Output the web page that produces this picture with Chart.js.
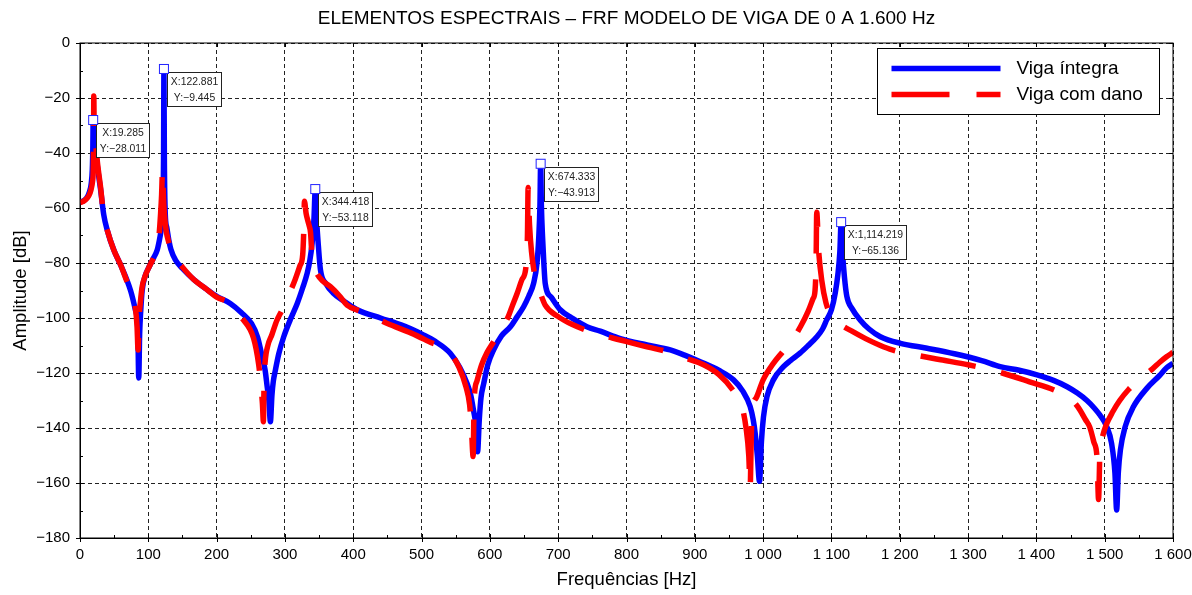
<!DOCTYPE html>
<html>
<head>
<meta charset="utf-8">
<script src="https://cdn.jsdelivr.net/npm/chart.js@4.4.0/dist/chart.umd.min.js"></script>
<style>
  html, body { margin: 0; padding: 0; background: #fff; }
  #wrap { width: 1192px; height: 595px; }
</style>
</head>
<body>
<div id="wrap"><canvas id="chart" width="1192" height="595"></canvas></div>
<script>
'use strict';

const titleText = 'ELEMENTOS ESPECTRAIS – FRF MODELO DE VIGA DE 0 A 1.600 Hz';
const seriesNames = ['Viga íntegra', 'Viga com dano'];

// Viga íntegra (Hz / dB)
const freqIntact = [
  0, 5, 10, 14, 16.5, 18, 18.8, 19.285, 19.9, 20.6,
  22.7, 26, 30, 34.8, 39.8, 49.5, 60, 74, 81, 84.6,
  86, 87.3, 89, 91, 95, 102, 108, 113, 116, 118.5,
  121, 122.3, 122.881, 123.5, 124.8, 127, 130, 133, 140, 150,
  166.5, 185, 200.7, 220, 236, 251, 260, 266.6, 271, 274,
  276.5, 278.7, 281, 283, 286, 291, 298, 308, 318, 326,
  332.5, 336.5, 339.8, 342.5, 344.418, 346.3, 349, 352, 360, 371,
  387, 405.6, 440, 470, 485, 500, 520, 542, 556, 566.6,
  572, 576, 579.5, 582, 584.5, 587, 591, 597, 605.5, 617,
  630, 640, 649.4, 657, 664, 669, 671.5, 673.3, 674.333, 675.4,
  677.2, 679, 681, 690, 703, 720, 742, 761.6, 791, 830,
  864, 885, 908, 935, 956.7, 970, 981, 985.5, 988.4, 991.5,
  994.7, 997.5, 1000.5, 1005.6, 1015, 1029.8, 1040, 1054, 1066, 1078.7,
  1087, 1093, 1100, 1105.5, 1109.5, 1112.3, 1114.219, 1116.2, 1119, 1122.6,
  1130, 1142, 1155, 1171.6, 1201, 1240, 1280, 1320, 1347, 1375,
  1401, 1425, 1445, 1460, 1474, 1485, 1493, 1503, 1510, 1515,
  1517.5, 1520, 1523, 1530, 1542, 1562, 1580, 1591, 1600
];
const ampIntact = [
  -57.8, -57.4, -56.3, -54, -51, -46, -38, -28.011, -34, -36.5,
  -39.5, -46, -53, -62.5, -68, -75.3, -81, -90, -97, -104,
  -121.8, -106, -97, -90, -85, -81, -78, -75.3, -72, -68.5,
  -62, -42, -9.445, -42, -62, -67, -71.6, -75, -79, -82,
  -86, -89.5, -92.2, -94.7, -98, -102, -107, -114, -119, -125,
  -130, -137.7, -128, -123, -119, -113, -107, -100.5, -94.7, -89,
  -83.8, -79, -72.8, -64, -53.118, -64, -74, -82.5, -87.5, -91,
  -94, -97, -100, -102.5, -104, -105.8, -108.5, -112.8, -118, -123.8,
  -128, -133.5, -139, -148.6, -137, -129, -123.8, -117, -111.6, -106.5,
  -103.2, -99.5, -95.9, -92, -87.4, -80, -71, -59, -43.913, -59,
  -71, -80, -87.4, -92.5, -97, -100, -103.2, -104.8, -107.5, -109.8,
  -111.6, -113.5, -115.9, -119, -122.5, -126.5, -132.2, -137, -142, -150,
  -159.4, -145, -136, -128.6, -122.5, -117.7, -115.5, -112.8, -110, -106.8,
  -104, -100.7, -97, -91, -84, -76, -65.136, -76, -85, -92.2,
  -96.5, -100.7, -104, -106.8, -109.2, -111, -113, -115.5, -117.7, -119,
  -120.7, -122.7, -125, -127.3, -130, -132.8, -135.3, -139.5, -145.5, -156.4,
  -169.8, -156, -148, -139.5, -132.3, -125.5, -121, -118, -116.5
];

// Viga com dano (Hz / dB)
const freqDamaged = [
  0, 5, 10, 13, 16, 18.5, 19.3, 19.8, 20.2, 20.7,
  21.5, 22.7, 26, 30, 34.8, 39.8, 49.5, 60, 70, 77.8,
  81, 83.5, 85, 86.5, 88.5, 91, 95, 102, 108, 113,
  115.5, 118, 119.5, 120.8, 122, 123.5, 126, 130, 135, 150,
  166.5, 185, 200.7, 220, 237, 254, 261.6, 265, 267, 268.5,
  269.5, 271, 275, 281, 288, 296, 305, 315, 322, 326,
  327.8, 328.5, 331, 335, 337.5, 340, 347, 355, 366.5, 380,
  391, 410, 425, 450, 485, 510, 539.7, 555, 565, 570.4,
  573, 575.5, 577, 581, 588, 596, 604.6, 615, 626, 633,
  640, 647, 653, 655, 656, 658, 661, 667, 674, 681,
  700, 720, 754.4, 791, 830, 864, 885, 912.8, 935, 955,
  969, 975, 979, 981, 982.5, 983.6, 990, 1000, 1015, 1028,
  1040, 1055, 1066, 1073, 1076, 1077.5, 1078.5, 1081, 1086, 1092,
  1100, 1113, 1130, 1150, 1170, 1189, 1220, 1260, 1300, 1350,
  1390, 1429, 1450, 1461, 1472, 1478, 1484, 1489, 1491, 1493,
  1497, 1502, 1512, 1522, 1535, 1552, 1570, 1581, 1591, 1600
];
const ampDamaged = [
  -58, -57.6, -56.5, -55.5, -53.5, -50, -47, -38, -19.3, -29,
  -34, -36.5, -44.5, -52.2, -63, -68, -75.3, -81, -87.5, -91.6,
  -96, -103, -111.6, -100, -94, -88.6, -85, -81, -78, -74.5,
  -70.5, -62, -55, -46, -55, -62, -68, -72.5, -76.5, -81.5,
  -86, -89.5, -92.5, -94.7, -100, -107.3, -117, -125, -131, -137.7,
  -123, -116, -110, -106, -101, -97, -92, -86, -81, -77,
  -66, -57.5, -62, -66, -69, -79, -84, -86.5, -88.6, -92,
  -95.3, -97.5, -99, -102, -105.5, -108.5, -112.2, -118, -125, -131.6,
  -140, -150.4, -130, -123, -117, -112.5, -109, -104.5, -100, -95.5,
  -91, -86, -81, -70, -52.5, -66, -76, -86, -91, -95.3,
  -99.5, -102.3, -105.6, -108, -110.5, -112.5, -114.5, -117, -120.5, -126,
  -132.2, -140, -150, -162, -145, -135.3, -129, -122.5, -116.5, -112.5,
  -109, -103, -97.5, -93, -90, -80, -61.5, -74.5, -86.6, -94.5,
  -99, -102.3, -104.8, -107.5, -109.8, -111.6, -113.3, -115.2, -117, -120,
  -123.2, -126.5, -129.5, -132.4, -137, -139.6, -145, -151.6, -166, -149,
  -143, -139, -134, -130, -126, -122, -118.5, -116, -114, -112.5
];

const xTicks = [0, 100, 200, 300, 400, 500, 600, 700, 800, 900, 1000, 1100, 1200, 1300, 1400, 1500, 1600];
const xTickLabels = ['0', '100', '200', '300', '400', '500', '600', '700', '800', '900',
  '1 000', '1 100', '1 200', '1 300', '1 400', '1 500', '1 600'];
const yTicks = [-180, -160, -140, -120, -100, -80, -60, -40, -20, 0];
const yTickLabels = ['−180', '−160', '−140', '−120', '−100', '−80', '−60', '−40', '−20', '0'];

// data tips on the intact beam peaks
const tipX = [19.285, 122.881, 344.418, 674.333, 1114.219];
const tipY = [-28.011, -9.445, -53.118, -43.913, -65.136];
const tipLabelX = ['X:19.285', 'X:122.881', 'X:344.418', 'X:674.333', 'X:1,114.219'];
const tipLabelY = ['Y:−28.011', 'Y:−9.445', 'Y:−53.118', 'Y:−43.913', 'Y:−65.136'];

const FONT = '"Liberation Sans", Arial, sans-serif';
const BLUE = '#0000ff';
const RED = '#ff0000';

function toPoints(xs, ys) {
  return xs.map((x, i) => ({ x: x, y: ys[i] }));
}

// title, frame, tick marks, data tips and legend
const frfExtras = {
  id: 'frfExtras',
  afterDatasetsDraw(chart) {
    const ctx = chart.ctx;
    const xs = chart.scales.x;
    const ys = chart.scales.y;
    ctx.save();
    ctx.font = '10.4px ' + FONT;
    ctx.textAlign = 'center';
    ctx.textBaseline = 'middle';
    tipX.forEach((v, i) => {
      const px = xs.getPixelForValue(v);
      const py = ys.getPixelForValue(tipY[i]);
      const w = Math.round(Math.max(ctx.measureText(tipLabelX[i]).width,
        ctx.measureText(tipLabelY[i]).width) + 7);
      const bx = Math.round(px + 3) + 0.5;
      const by = Math.round(py + 3) + 0.5;
      ctx.fillStyle = '#fff';
      ctx.fillRect(bx, by, w, 34);
      ctx.strokeStyle = '#222';
      ctx.lineWidth = 1;
      ctx.strokeRect(bx, by, w, 34);
      ctx.fillStyle = '#222';
      ctx.fillText(tipLabelX[i], bx + w / 2, by + 10);
      ctx.fillText(tipLabelY[i], bx + w / 2, by + 26);
      ctx.fillStyle = '#fff';
      ctx.fillRect(px - 4.5, py - 4.5, 9, 9);
      ctx.strokeStyle = '#2222ff';
      ctx.strokeRect(px - 4.5, py - 4.5, 9, 9);
    });
    ctx.restore();
  },
  afterDraw(chart) {
    const ctx = chart.ctx;
    const area = chart.chartArea;
    const xs = chart.scales.x;
    const ys = chart.scales.y;
    ctx.save();

    // title
    ctx.fillStyle = '#000';
    ctx.font = '19px ' + FONT;
    ctx.textAlign = 'center';
    ctx.textBaseline = 'middle';
    ctx.fillText(titleText, (area.left + area.right) / 2, 19);

    // frame
    ctx.strokeStyle = '#000';
    ctx.lineWidth = 1;
    ctx.strokeRect(area.left, area.top, area.right - area.left, area.bottom - area.top);

    // tick marks
    ctx.beginPath();
    for (let v = 0; v <= 1600; v += 50) {
      const p = Math.round(xs.getPixelForValue(v)) + 0.5;
      if (xTicks.includes(v)) {
        ctx.moveTo(p, area.bottom + 4); ctx.lineTo(p, area.bottom - 4);
        ctx.moveTo(p, area.top); ctx.lineTo(p, area.top + 4);
      } else {
        ctx.moveTo(p, area.bottom); ctx.lineTo(p, area.bottom - 3);
      }
    }
    for (let v = -180; v <= 0; v += 10) {
      const p = Math.round(ys.getPixelForValue(v)) + 0.5;
      if (yTicks.includes(v)) {
        ctx.moveTo(area.left - 4, p); ctx.lineTo(area.left + 4, p);
        ctx.moveTo(area.right, p); ctx.lineTo(area.right - 4, p);
      } else {
        ctx.moveTo(area.left, p); ctx.lineTo(area.left + 3, p);
      }
    }
    ctx.stroke();

    // legend
    const lx = Math.round(area.right - 296) + 0.5;
    const ly = Math.round(area.top + 5) + 0.5;
    ctx.fillStyle = '#fff';
    ctx.fillRect(lx, ly, 282, 66);
    ctx.strokeStyle = '#000';
    ctx.strokeRect(lx, ly, 282, 66);
    ctx.lineWidth = 5.5;
    ctx.lineCap = 'butt';
    ctx.strokeStyle = BLUE;
    ctx.beginPath();
    ctx.moveTo(lx + 14, ly + 20); ctx.lineTo(lx + 123, ly + 20);
    ctx.stroke();
    ctx.strokeStyle = RED;
    ctx.setLineDash([58, 27]);
    ctx.beginPath();
    ctx.moveTo(lx + 14, ly + 46); ctx.lineTo(lx + 123, ly + 46);
    ctx.stroke();
    ctx.setLineDash([]);
    ctx.fillStyle = '#000';
    ctx.font = '19px ' + FONT;
    ctx.textAlign = 'left';
    ctx.textBaseline = 'middle';
    ctx.fillText(seriesNames[0], lx + 139, ly + 20);
    ctx.fillText(seriesNames[1], lx + 139, ly + 46);

    ctx.restore();
  }
};

const canvasElem = document.getElementById('chart');

new Chart(canvasElem, {
  type: 'line',
  data: {
    datasets: [
      {
        label: seriesNames[0],
        data: toPoints(freqIntact, ampIntact),
        borderColor: BLUE,
        backgroundColor: BLUE,
        borderWidth: 5.5,
        pointRadius: 0,
        cubicInterpolationMode: 'monotone',
        borderJoinStyle: 'round',
        order: 1,
      },
      {
        label: seriesNames[1],
        data: toPoints(freqDamaged, ampDamaged),
        borderColor: RED,
        backgroundColor: RED,
        borderWidth: 5.5,
        borderDash: [56, 26],
        borderCapStyle: 'butt',
        pointRadius: 0,
        cubicInterpolationMode: 'monotone',
        borderJoinStyle: 'round',
        order: 0,
      },
    ],
  },
  options: {
    responsive: false,
    animation: false,
    layout: { padding: { top: 43, right: 19, left: 0, bottom: 0 } },
    plugins: {
      legend: { display: false },
      title: { display: false },
      tooltip: { enabled: false },
    },
    scales: {
      x: {
        type: 'linear',
        min: 0,
        max: 1600,
        afterFit: s => { s.height = 57; s.paddingRight = 0; s.paddingLeft = 0; },
        ticks: {
          stepSize: 50,
          autoSkip: false,
          maxRotation: 0,
          padding: 8,
          color: '#000',
          font: { family: FONT, size: 15 },
          callback: v => {
            const i = xTicks.indexOf(v);
            return i >= 0 ? xTickLabels[i] : '';
          },
        },
        grid: {
          drawTicks: false,
          lineWidth: 1,
          color: ctx => (ctx.tick && xTicks.includes(ctx.tick.value)) ? '#222' : 'rgba(0,0,0,0)',
        },
        border: { display: true, color: '#000', width: 1, dash: [4, 3] },
        title: {
          display: true,
          text: 'Frequências [Hz]',
          color: '#000',
          font: { family: FONT, size: 18.5 },
          padding: { top: 0, bottom: 4 },
        },
      },
      y: {
        type: 'linear',
        min: -180,
        max: 0,
        afterFit: s => { s.width = 80; },
        ticks: {
          stepSize: 10,
          autoSkip: false,
          padding: 10,
          color: '#000',
          font: { family: FONT, size: 15 },
          callback: v => {
            const i = yTicks.indexOf(v);
            return i >= 0 ? yTickLabels[i] : '';
          },
        },
        grid: {
          drawTicks: false,
          lineWidth: 1,
          color: ctx => (ctx.tick && yTicks.includes(ctx.tick.value)) ? '#222' : 'rgba(0,0,0,0)',
        },
        border: { display: true, color: '#000', width: 1, dash: [4, 3] },
        title: {
          display: true,
          text: 'Amplitude [dB]',
          color: '#000',
          font: { family: FONT, size: 18.5 },
          padding: { top: 10, bottom: 0 },
        },
      },
    },
  },
  plugins: [frfExtras],
});
</script>
</body>
</html>
